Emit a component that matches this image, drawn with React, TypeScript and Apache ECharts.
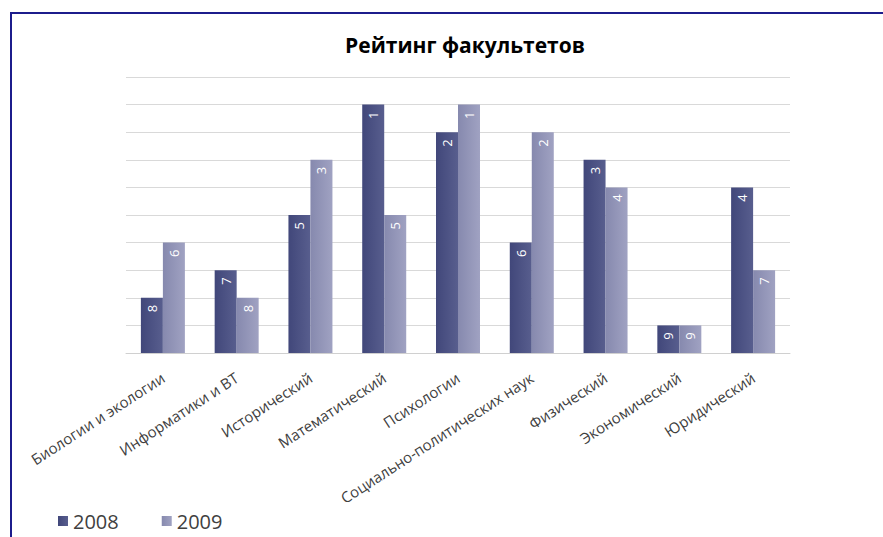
import React, { useEffect, useRef } from "react";
import * as echarts from "echarts";

const categories = [
  "Биологии и экологии",
  "Информатики и ВТ",
  "Исторический",
  "Математический",
  "Психологии",
  "Социально-политических наук",
  "Физический",
  "Экономический",
  "Юридический",
];
const rank2008 = [8, 7, 5, 1, 2, 6, 3, 9, 4];
const rank2009 = [6, 8, 3, 5, 1, 2, 4, 9, 7];
const seriesNames = ["2008", "2009"];
const title = "Рейтинг факультетов";
const MAX_RANK_SCALE = 10;

export default function App() {
  const ref = useRef<HTMLDivElement>(null);
  useEffect(() => {
    document.body.style.margin = "0";
    const chart = echarts.init(ref.current!, null, { renderer: "svg" });
    const font = "'Open Sans', 'Noto Sans', sans-serif";
    const label = {
      show: true,
      position: "insideTop",
      rotate: 90,
      align: "right",
      verticalAlign: "middle",
      distance: 7,
      color: "#ffffff",
      fontSize: 13,
      fontFamily: font,
      formatter: (p: any) => String(MAX_RANK_SCALE - p.value),
    };
    const grad = (a: string, b: string) =>
      new echarts.graphic.LinearGradient(0, 0, 1, 0, [
        { offset: 0, color: a },
        { offset: 1, color: b },
      ]);
    chart.setOption({
      animation: false,
      backgroundColor: "#ffffff",
      title: {
        text: title,
        left: 460,
        textAlign: "center",
        top: 29,
        textStyle: { fontSize: 21, fontWeight: "bold", color: "#000000", fontFamily: font },
      },
      legend: {
        left: 58,
        top: 511,
        padding: 0,
        itemWidth: 10,
        itemHeight: 10,
        itemGap: 43,
        icon: "rect",
        textStyle: { fontSize: 20, color: "#404040", fontFamily: font, padding: [0, 0, 0, 0] },
        data: seriesNames,
      },
      grid: { left: 126, right: 93, top: 77, bottom: 184, containLabel: false },
      xAxis: {
        type: "category",
        data: categories,
        axisLine: { lineStyle: { color: "#d0d0d0", width: 1 } },
        axisTick: { show: false },
        axisLabel: {
          rotate: 33,
          interval: 0,
          color: "#404040",
          fontSize: 15,
          fontFamily: font,
          margin: 23,
        },
      },
      yAxis: {
        type: "value",
        min: 0,
        max: 10,
        interval: 1,
        axisLabel: { show: false },
        axisLine: { show: false },
        axisTick: { show: false },
        splitLine: { lineStyle: { color: "#d9d9d9", width: 1 } },
      },
      graphic: [
        {
          type: "rect",
          shape: { x: 11, y: 13, width: 1000, height: 800 },
          style: { fill: "none", stroke: "#1c1c8c", lineWidth: 2 },
          silent: true,
        },
      ],
      series: [
        {
          name: seriesNames[0],
          type: "bar",
          barWidth: 22,
          barGap: "0%",
          data: rank2008.map((r) => MAX_RANK_SCALE - r),
          itemStyle: { color: grad("#41477a", "#585e8e") },
          label,
        },
        {
          name: seriesNames[1],
          type: "bar",
          barWidth: 22,
          data: rank2009.map((r) => MAX_RANK_SCALE - r),
          itemStyle: { color: grad("#8689ae", "#a0a2c2") },
          label,
        },
      ],
    });
    return () => chart.dispose();
  }, []);
  return <div ref={ref} style={{ position: "absolute", left: 0, top: 0, width: 883, height: 537 }} />;
}
